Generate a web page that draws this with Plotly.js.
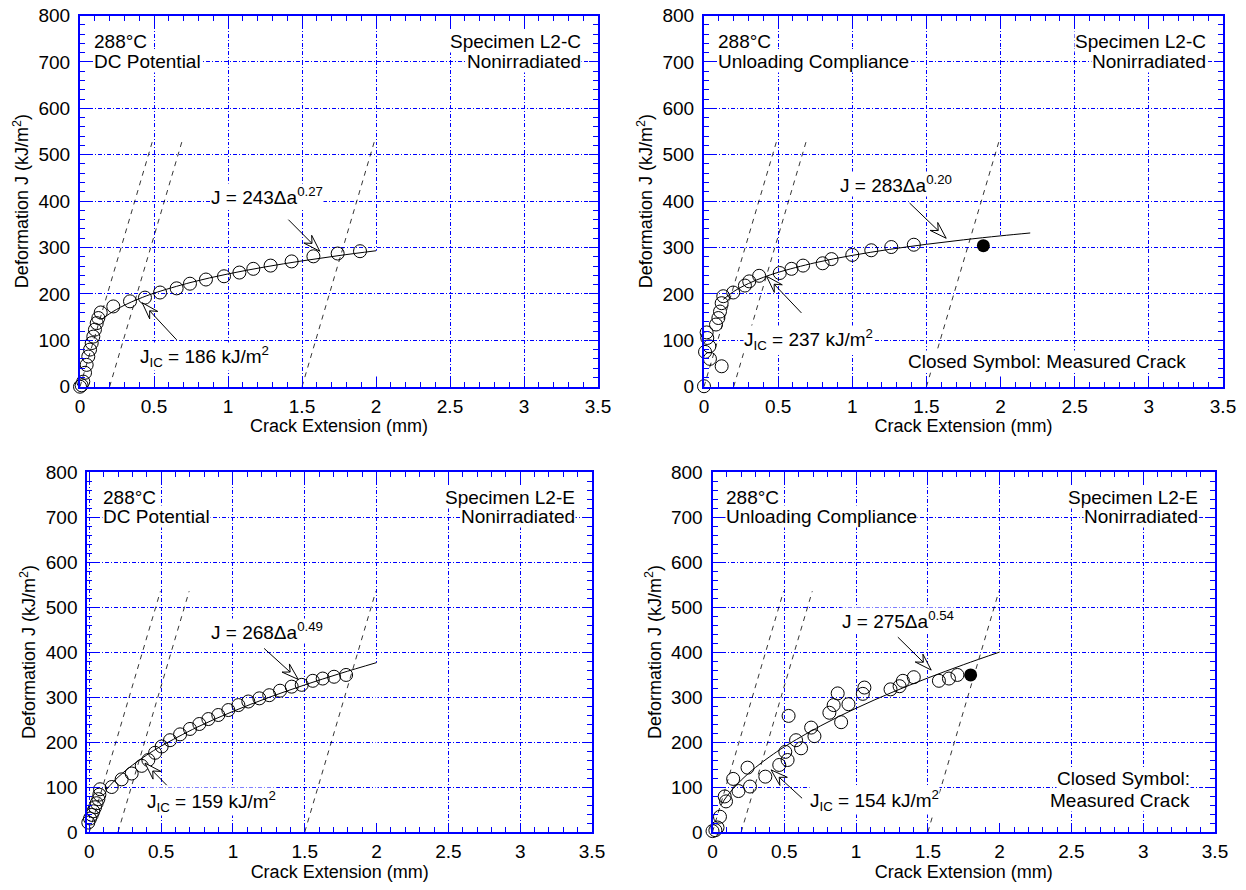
<!DOCTYPE html>
<html><head><meta charset="utf-8">
<script src="https://cdn.plot.ly/plotly-3.0.1.min.js"></script>
<style>html,body{margin:0;padding:0;background:#fff}#chart{width:1246px;height:890px}</style>
</head><body><div id="chart"></div>
<script>
// ---------------- data ----------------
// Panel A: Specimen L2-C, DC Potential
const aX = [0.0, 0.011, 0.022, 0.034, 0.045, 0.056, 0.068, 0.079, 0.09, 0.101, 0.113, 0.124, 0.14, 0.225, 0.338, 0.439, 0.541, 0.653, 0.743, 0.851, 0.973, 1.077, 1.171, 1.288, 1.43, 1.577, 1.741, 1.892];
const aJ = [0, 3, 11, 30, 47, 65, 80, 94, 108, 123, 137, 148, 160, 173, 184, 192, 203, 212, 222, 231, 238, 246, 254, 261, 270, 281, 287, 292];
const aFitX = [0.15, 0.2, 0.3, 0.4, 0.5, 0.75, 1.0, 1.25, 1.5, 1.75, 2.0];
const aFitJ = [145.6, 157.4, 175.6, 189.7, 201.5, 224.8, 243.0, 258.1, 271.1, 282.6, 293.0];

// Panel B: Specimen L2-C, Unloading Compliance
const bX = [0.0, 0.119, 0.04, 0.007, 0.036, 0.022, 0.018, 0.081, 0.097, 0.108, 0.119, 0.13, 0.197, 0.276, 0.305, 0.372, 0.511, 0.59, 0.668, 0.8, 0.86, 1.0, 1.128, 1.263, 1.415];
const bJ = [1, 44, 60, 75, 87, 105, 117, 134, 148, 162, 180, 195, 203, 218, 227, 239, 245, 254, 261, 266, 275, 284, 294, 301, 306];
const bClosedX = [1.884];
const bClosedJ = [304];
const bFitX = [0.13, 0.2, 0.3, 0.4, 0.5, 0.75, 1.0, 1.25, 1.5, 1.75, 2.0, 2.2];
const bFitJ = [188.2, 205.1, 222.4, 235.6, 246.4, 267.2, 283.0, 295.9, 306.9, 316.5, 325.1, 331.3];

// Panel C: Specimen L2-E, DC Potential
const cX = [-0.03, -0.018, -0.007, 0.005, 0.017, 0.028, 0.04, 0.051, 0.063, 0.07, 0.075, 0.156, 0.225, 0.295, 0.365, 0.411, 0.458, 0.504, 0.562, 0.632, 0.701, 0.766, 0.829, 0.898, 0.968, 1.038, 1.107, 1.184, 1.253, 1.328, 1.409, 1.479, 1.556, 1.625, 1.704, 1.788];
const cJ = [4, 12, 21, 30, 38, 46, 55, 64, 73, 83, 95, 100, 117, 130, 147, 160, 176, 190, 204, 217, 229, 240, 251, 260, 271, 282, 290, 297, 304, 314, 323, 327, 336, 341, 345, 349];
const cFitX = [0.12, 0.2, 0.3, 0.4, 0.5, 0.75, 1.0, 1.25, 1.5, 1.75, 2.0];
const cFitJ = [94.8, 121.8, 148.6, 171.1, 190.8, 232.8, 268.0, 299.0, 326.9, 352.6, 376.4];

// Panel D: Specimen L2-E, Unloading Compliance
const dX = [0.0, 0.02, 0.035, 0.052, 0.085, 0.094, 0.144, 0.181, 0.244, 0.261, 0.368, 0.465, 0.507, 0.523, 0.530, 0.582, 0.617, 0.687, 0.710, 0.814, 0.844, 0.872, 0.896, 0.947, 1.047, 1.058, 1.240, 1.303, 1.326, 1.402, 1.577, 1.647, 1.706];
const dJ = [2, 4, 10, 34, 79, 68, 118, 91, 143, 101, 123, 149, 178, 160, 258, 204, 186, 232, 213, 265, 282, 308, 244, 284, 307, 321, 317, 324, 336, 344, 336, 341, 349];
const dClosedX = [1.798];
const dClosedJ = [349];
const dFitX = [0.06, 0.1, 0.2, 0.3, 0.4, 0.5, 0.75, 1.0, 1.25, 1.5, 1.75, 2.0];
const dFitJ = [60.2, 79.3, 115.3, 143.6, 167.7, 189.2, 235.4, 275.0, 310.2, 342.3, 372.0, 399.9];

// Blunting line and offset (exclusion) lines, same in every panel
const lineStartX = [0.0, 0.2, 1.5];
const lineEndX = [0.495, 0.695, 1.995];
const lineJ = [0, 535];

// Text
const xTitle = 'Crack Extension (mm)';
const yTitle = 'Deformation J (kJ/m<sup>2</sup>)';
const methods = ['DC Potential', 'Unloading Compliance', 'DC Potential', 'Unloading Compliance'];
const specimens = ['Specimen L2-C', 'Specimen L2-C', 'Specimen L2-E', 'Specimen L2-E'];
const fitLabels = ['J = 243\u0394a<sup>0.27</sup>', 'J = 283\u0394a<sup>0.20</sup>', 'J = 268\u0394a<sup>0.49</sup>', 'J = 275\u0394a<sup>0.54</sup>'];
const jicLabels = ['J<sub>IC</sub> = 186 kJ/m<sup>2</sup>', 'J<sub>IC</sub> = 237 kJ/m<sup>2</sup>', 'J<sub>IC</sub> = 159 kJ/m<sup>2</sup>', 'J<sub>IC</sub> = 154 kJ/m<sup>2</sup>'];

// ---------------- layout geometry ----------------
const W = 1246, H = 890;
const BLUE = '#0000ff';
const FONT = 'Liberation Sans, Arial, Helvetica, sans-serif';
const TICK_SIZE = 19, TITLE_SIZE = 18, TEXT_SIZE = 19;
const panels = [
  {xa:'x',  ya:'y',  xd:[80, 598],    yd:[15.5, 386.7], xr:[0, 3.5],
   fitPos:[1.261, 412], fitTail:[1.408, 360], fitTip:[1.62, 292],
   jicPos:[0.838, 65], jicTail:[0.653, 101], jicTip:[0.42, 181]},
  {xa:'x2', ya:'y2', xd:[704, 1223],  yd:[15.5, 386.7], xr:[0, 3.5],
   fitPos:[1.295, 437], fitTail:[1.386, 396], fitTip:[1.633, 320],
   jicPos:[0.707, 101], jicTail:[0.657, 159], jicTip:[0.422, 238]},
  {xa:'x3', ya:'y3', xd:[87.3, 592],  yd:[472, 832],    xr:[-0.014, 3.5],
   fitPos:[1.235, 447], fitTail:[1.217, 408], fitTip:[1.455, 339],
   jicPos:[0.852, 67], jicTail:[0.539, 104], jicTip:[0.388, 153]},
  {xa:'x4', ya:'y4', xd:[712.5, 1215], yd:[472, 832],   xr:[0, 3.5],
   fitPos:[1.29, 471], fitTail:[1.291, 433], fitTip:[1.523, 360],
   jicPos:[1.129, 71], jicTail:[0.624, 75], jicTip:[0.408, 138]}
];
const series = [
  {x:aX, y:aJ, fx:aFitX, fy:aFitJ},
  {x:bX, y:bJ, fx:bFitX, fy:bFitJ, cx:bClosedX, cy:bClosedJ},
  {x:cX, y:cJ, fx:cFitX, fy:cFitJ},
  {x:dX, y:dJ, fx:dFitX, fy:dFitJ, cx:dClosedX, cy:dClosedJ}
];

const layout = {
  width: W, height: H, autosize: false,
  margin: {l:0, r:0, t:0, b:0},
  paper_bgcolor: '#fff', plot_bgcolor: '#fff',
  showlegend: false,
  font: {family: FONT, size: 17, color: '#000'},
  shapes: [], annotations: []
};
const traces = [];

function axisBase() {
  return {
    ticks: 'inside', tickcolor: BLUE, tickwidth: 1, ticklen: 9,
    showline: true, linecolor: BLUE, linewidth: 2, mirror: 'ticks',
    showgrid: true, gridcolor: BLUE, gridwidth: 1, griddash: '4px,2px,1px,2px',
    zeroline: false, fixedrange: true, automargin: false,
    tickfont: {family: FONT, size: TICK_SIZE, color: '#000'}
  };
}

function arrowShapes(p, tail, tip) {
  const sx = (p.xd[1] - p.xd[0]) / (p.xr[1] - p.xr[0]);
  const sy = (p.yd[1] - p.yd[0]) / 800;
  const dx = (tip[0] - tail[0]) * sx, dy = (tip[1] - tail[1]) * sy;
  const len = Math.hypot(dx, dy);
  const ux = dx / len, uy = dy / len, nx = -uy, ny = ux;
  const L = 17, Wd = 11, N = 11;
  const pts = [[0, 0], [-L*ux + Wd/2*nx, -L*uy + Wd/2*ny], [-N*ux, -N*uy], [-L*ux - Wd/2*nx, -L*uy - Wd/2*ny]];
  const path = 'M' + pts.map(q => q[0].toFixed(2) + ',' + q[1].toFixed(2)).join('L') + 'Z';
  return [
    {type:'line', xref:p.xa, yref:p.ya, x0:tail[0], y0:tail[1], x1:tip[0], y1:tip[1],
     line:{color:'#000', width:1}, layer:'above'},
    {type:'path', xref:p.xa, yref:p.ya, xsizemode:'pixel', ysizemode:'pixel',
     xanchor:tip[0], yanchor:tip[1], path:path, fillcolor:'#fff',
     line:{color:'#000', width:1}, layer:'above'}
  ];
}

function ann(p, x, y, text, xanchor) {
  return {xref:p.xa, yref:p.ya, x:x, y:y, text:text, showarrow:false,
          xanchor:xanchor || 'center', yanchor:'middle', bgcolor:'#fff', borderpad:0,
          font:{family:FONT, size:TEXT_SIZE, color:'#000'}};
}

panels.forEach((p, i) => {
  const n = i === 0 ? '' : String(i + 1);
  const xa = axisBase(), ya = axisBase();
  Object.assign(xa, {
    domain:[p.xd[0] / W, p.xd[1] / W], range:p.xr, anchor:p.ya,
    tick0:0, dtick:0.5, ticklabelstandoff:1,
    minor:{dtick:0.1, tick0:0, ticks:'inside', ticklen:5, tickcolor:BLUE, tickwidth:1, showgrid:false},
    title:{text:xTitle, font:{family:FONT, size:TITLE_SIZE, color:'#000'}, standoff:0}
  });
  Object.assign(ya, {
    domain:[1 - p.yd[1] / H, 1 - p.yd[0] / H], range:[0, 800], anchor:p.xa,
    tick0:0, dtick:100, ticklabelstandoff:4,
    minor:{dtick:20, tick0:0, ticks:'inside', ticklen:5, tickcolor:BLUE, tickwidth:1, showgrid:false},
    title:{text:yTitle, font:{family:FONT, size:TITLE_SIZE, color:'#000'}, standoff:5}
  });
  layout['xaxis' + n] = xa;
  layout['yaxis' + n] = ya;

  const s = series[i];
  // the x = 2 grid line is not drawn below the end of the fitted curve
  layout.shapes.push({type:'line', xref:p.xa, yref:p.ya, x0:2, x1:2, y0:22,
    y1:s.fy[s.fx.indexOf(2.0)], line:{color:'#fff', width:2}, layer:'between'});
  // blunting / offset lines
  lineStartX.forEach((x0, k) => {
    traces.push({x:[x0, lineEndX[k]], y:lineJ, xaxis:p.xa, yaxis:p.ya, mode:'lines',
      line:{color:'#000', width:0.8, dash:'5px,5px'}, hoverinfo:'skip'});
  });
  // power-law fit
  traces.push({x:s.fx, y:s.fy, xaxis:p.xa, yaxis:p.ya, mode:'lines',
    line:{color:'#000', width:1, shape:'spline'}, hoverinfo:'skip'});
  // open symbols
  traces.push({x:s.x, y:s.y, xaxis:p.xa, yaxis:p.ya, mode:'markers', cliponaxis:false,
    marker:{symbol:'circle-open', size:13, color:'#000', line:{width:1, color:'#000'}}});
  if (s.cx) {
    traces.push({x:s.cx, y:s.cy, xaxis:p.xa, yaxis:p.ya, mode:'markers', cliponaxis:false,
      marker:{symbol:'circle', size:13, color:'#000'}});
  }

  // text
  layout.annotations.push(ann(p, 0.085, 743, '288\u00b0C', 'left'));
  layout.annotations.push(ann(p, 0.085, 701, methods[i], 'left'));
  layout.annotations.push(ann(p, 3.39, 743, specimens[i], 'right'));
  layout.annotations.push(ann(p, 3.39, 701, 'Nonirradiated', 'right'));
  layout.annotations.push(ann(p, p.fitPos[0], p.fitPos[1], fitLabels[i]));
  layout.annotations.push(ann(p, p.jicPos[0], p.jicPos[1], jicLabels[i]));
  layout.shapes.push(...arrowShapes(p, p.fitTail, p.fitTip));
  layout.shapes.push(...arrowShapes(p, p.jicTail, p.jicTip));
});
layout.annotations.push(ann(panels[1], 3.26, 55, 'Closed Symbol: Measured Crack', 'right'));
layout.annotations.push(ann(panels[3], 3.33, 120, 'Closed Symbol:', 'right'));
layout.annotations.push(ann(panels[3], 3.33, 71, 'Measured Crack', 'right'));

Plotly.newPlot('chart', traces, layout, {staticPlot:true, displayModeBar:false});
</script>
</body></html>
